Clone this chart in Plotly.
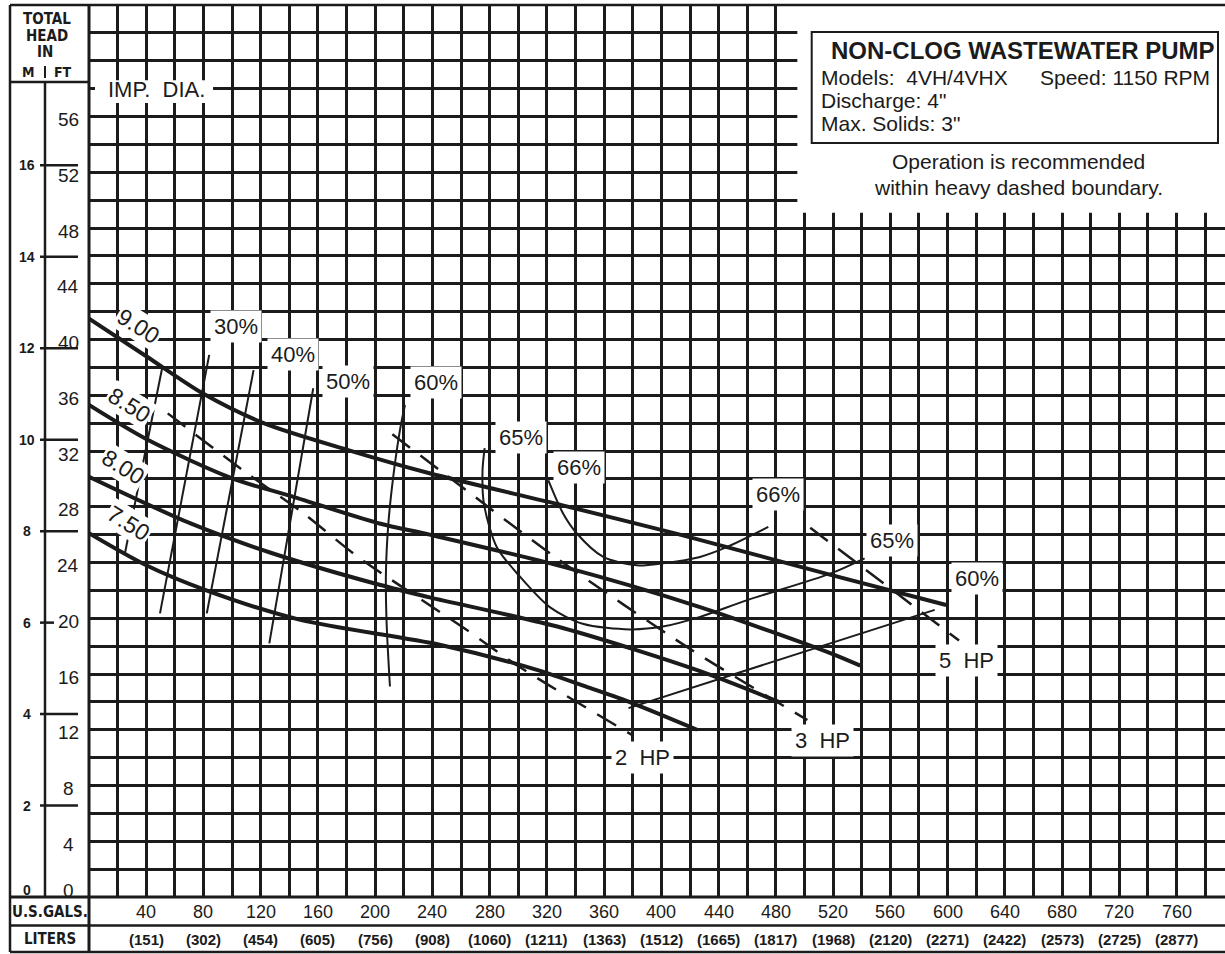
import plotly.graph_objects as go

# ---------------- data (flow in U.S. GPM, head in feet) ----------------
imp_900_gpm = [0, 40, 80, 122, 180, 238, 331, 413, 515, 599]
imp_900_ft = [41.5, 38.8, 36.1, 34.0, 32.1, 30.4, 28.1, 26.0, 23.2, 20.95]
imp_850_gpm = [0, 41, 101, 140, 203, 238, 331, 427, 518, 539]
imp_850_ft = [35.3, 32.8, 30.0, 28.8, 26.8, 26.0, 23.7, 20.8, 17.5, 16.6]
imp_800_gpm = [0, 71, 127, 203, 238, 331, 427, 482]
imp_800_ft = [30.15, 26.8, 24.7, 22.4, 21.5, 19.3, 16.2, 14.0]
imp_750_gpm = [0, 40, 82, 147, 245, 313, 350, 380, 425]
imp_750_ft = [26.1, 23.8, 22.0, 19.9, 18.1, 16.3, 15.0, 13.9, 12.0]

eff_30_gpm = [84, 49.6]
eff_30_ft = [38.9, 20.35]
eff_40_gpm = [115, 82.3]
eff_40_ft = [37.8, 20.35]
eff_50_gpm = [156.7, 126]
eff_50_ft = [36.5, 18.2]
eff_60a_gpm = [220.8, 217.3, 212.6, 209.2, 207.5, 208, 210.3]
eff_60a_ft = [35.3, 33.5, 30.15, 26.8, 23.25, 19.6, 15.1]
eff_60b_gpm = [377, 591]
eff_60b_ft = [13.55, 20.6]
eff_65_gpm = [276.5, 275, 276, 285, 301, 322, 345, 378, 401, 427, 460, 518, 542]
eff_65_ft = [32.2, 30.6, 28.2, 25.1, 23.0, 20.8, 19.6, 19.2, 19.4, 20.1, 21.3, 23.2, 24.3]
eff_66_gpm = [321, 331.4, 340.8, 359.4, 382.7, 401.3, 427, 445.6, 474.7]
eff_66_ft = [29.9, 27.5, 26.1, 24.4, 23.8, 23.95, 24.4, 25.1, 26.55]

hp2_gpm = [55, 109, 149, 188, 262, 301, 380]
hp2_ft = [34.7, 30.5, 27.6, 24.4, 19.3, 16.5, 11.6]
hp3_gpm = [212, 248, 327, 420, 502]
hp3_ft = [33.2, 30.4, 24.3, 17.8, 12.7]
hp5_gpm = [504, 608]
hp5_ft = [26.5, 18.4]
bound_gpm = [51.4, 25.2]
bound_ft = [38.1, 24.7]

gpm_ticks = [40, 80, 120, 160, 200, 240, 280, 320, 360, 400,
             440, 480, 520, 560, 600, 640, 680, 720, 760]
liter_labels = ["(151)", "(302)", "(454)", "(605)", "(756)", "(908)", "(1060)",
                "(1211)", "(1363)", "(1512)", "(1665)", "(1817)", "(1968)",
                "(2120)", "(2271)", "(2422)", "(2573)", "(2725)", "(2877)"]
ft_ticks = [0, 4, 8, 12, 16, 20, 24, 28, 32, 36, 40, 44, 48, 52, 56]
m_ticks = [0, 2, 4, 6, 8, 10, 12, 14, 16]
FT_PER_M = 3.28084

# ---------------- styling helpers ----------------
INK = "#1b1b1b"
FONT = "Liberation Sans, Arial, sans-serif"
NARROW = "Liberation Sans Narrow, DejaVu Sans Condensed, Liberation Sans, sans-serif"
ML, MT, PW, PH = 89, 5, 1136, 892
YMAX = 64


def pxx(p):
    return (p - ML) / PW


def pxy(p):
    return (MT + PH - p) / PH


fig = go.Figure()


def add_line(x, y, width, dash="solid", shape="spline"):
    fig.add_trace(go.Scatter(x=x, y=y, mode="lines", hoverinfo="skip",
                             line=dict(color=INK, width=width, dash=dash,
                                       shape=shape, smoothing=0.8)))


for gx, gy in [(imp_900_gpm, imp_900_ft), (imp_850_gpm, imp_850_ft),
               (imp_800_gpm, imp_800_ft), (imp_750_gpm, imp_750_ft)]:
    add_line(gx, gy, 4)

for gx, gy in [(eff_30_gpm, eff_30_ft), (eff_40_gpm, eff_40_ft),
               (eff_50_gpm, eff_50_ft), (eff_60b_gpm, eff_60b_ft),
               (bound_gpm, bound_ft)]:
    add_line(gx, gy, 2, shape="linear")
for gx, gy in [(eff_60a_gpm, eff_60a_ft), (eff_65_gpm, eff_65_ft),
               (eff_66_gpm, eff_66_ft)]:
    add_line(gx, gy, 2)

for gx, gy in [(hp2_gpm, hp2_ft), (hp3_gpm, hp3_ft), (hp5_gpm, hp5_ft)]:
    add_line(gx, gy, 2.5, dash="22px,13px")

shapes = []


def seg(x0, y0, x1, y1, w=2.5):
    shapes.append(dict(type="line", xref="paper", yref="paper",
                       x0=pxx(x0), y0=pxy(y0), x1=pxx(x1), y1=pxy(y1),
                       line=dict(color=INK, width=w), layer="above"))


# white cover in the upper right (grid knocked out behind the title block)
shapes.append(dict(type="rect", xref="x", yref="y", x0=495, x1=800, y0=49.1, y1=66,
                   fillcolor="white", line=dict(width=0), layer="above"))
# knock-out behind "IMP. DIA."
shapes.append(dict(type="rect", xref="x", yref="y", x0=4.2, x1=86.7, y0=56.96, y1=58.6,
                   fillcolor="white", line=dict(width=0), layer="above"))

# frame lines
seg(10, 5, 1225, 5, 2.5)
seg(10, 5, 10, 952, 2.5)
seg(89, 5, 89, 952, 3)
seg(45, 82, 45, 897, 2.5)
seg(10, 82, 89, 82, 2.5)
seg(45, 66, 45, 78, 2)
seg(10, 897, 1225, 897, 3)
seg(10, 925.5, 1225, 925.5, 2.5)
seg(10, 952, 1225, 952, 2.5)

# title box
shapes.append(dict(type="rect", xref="paper", yref="paper",
                   x0=pxx(811.7), x1=pxx(1218), y0=pxy(143), y1=pxy(32),
                   line=dict(color=INK, width=2), fillcolor="rgba(0,0,0,0)", layer="above"))

# metre ticks
for m in m_ticks:
    if m == 0:
        continue
    yv = m * FT_PER_M / YMAX
    x_end = 54 if m == 6 else 78
    shapes.append(dict(type="line", xref="paper", yref="paper",
                       x0=pxx(40), x1=pxx(x_end), y0=yv, y1=yv,
                       line=dict(color=INK, width=2.5), layer="above"))

ann = []


def text(x, y, s, size, xref="paper", yref="paper", bold=False, family=FONT,
         xanchor="center", yanchor="middle", angle=0, bg=None, pad=1, yshift=0):
    d = dict(x=x, y=y, xref=xref, yref=yref, text=("<b>%s</b>" % s) if bold else s,
             showarrow=False, xanchor=xanchor, yanchor=yanchor, textangle=angle,
             font=dict(family=family, size=size, color=INK), yshift=yshift)
    if bg:
        d.update(bgcolor=bg, borderpad=pad)
    ann.append(d)


# header of left scale
text(pxx(47), pxy(19), "TOTAL", 15, bold=True, family=NARROW)
text(pxx(47), pxy(36), "HEAD", 15, bold=True, family=NARROW)
text(pxx(45), pxy(52), "IN", 15, bold=True, family=NARROW)
text(pxx(28), pxy(72), "M", 14, bold=True, family=NARROW)
text(pxx(63), pxy(72), "FT", 14, bold=True, family=NARROW)

for m in m_ticks:
    yv = m * FT_PER_M / YMAX
    text(pxx(27), yv, str(m), 14, bold=True, yshift=7 if m == 0 else 0)
for f in ft_ticks:
    text(pxx(68), f / YMAX, str(f), 19, yshift=7 if f == 0 else -3)

# bottom scales
text(pxx(50), pxy(911.5), "U.S.GALS.", 15, bold=True, family=NARROW)
text(pxx(50), pxy(939), "LITERS", 15, bold=True, family=NARROW)
for g, lab in zip(gpm_ticks, liter_labels):
    text(g, pxy(911.5), str(g), 18, xref="x")
    text(g, pxy(939.5), lab, 15, xref="x", bold=True)

# in-chart labels
text(47.5, 57.95, "IMP.  DIA.", 22, xref="x", yref="y")
for lab, (gx, gy) in zip(["9.00", "8.50", "8.00", "7.50"],
                         [(34.5, 40.96), (28.2, 35.3), (24.0, 30.87), (27.5, 26.81)]):
    text(gx, gy, lab, 23, xref="x", yref="y", angle=32, bg="white", pad=1)

for lab, (gx, gy) in zip(["30%", "40%", "50%", "60%", "65%", "66%", "66%", "65%", "60%",
                          "5  HP", "3  HP", "2  HP"],
                         [(102.4, 40.96), (142.9, 38.95), (181, 37.02), (242.5, 36.94),
                          (302.2, 32.96), (342.1, 30.81), (481.8, 28.91), (560.8, 25.61),
                          (620.2, 22.88), (612.9, 17.0), (512.9, 11.26), (386.8, 10.01)]):
    text(gx, gy, lab, 22, xref="x", yref="y", bg="white", pad=3)

# title block
text(pxx(829), pxy(50.5), "NON-CLOG WASTEWATER PUMP", 24, bold=True, xanchor="left")
text(pxx(819), pxy(77), "Models:  4VH/4VHX", 21, xanchor="left")
text(pxx(1038), pxy(77), "Speed: 1150 RPM", 21, xanchor="left")
text(pxx(819), pxy(100), "Discharge: 4\"", 21, xanchor="left")
text(pxx(819), pxy(123), "Max. Solids: 3\"", 21, xanchor="left")
text(pxx(1018), pxy(161.5), "Operation is recommended", 21)
text(pxx(1018), pxy(188), "within heavy dashed boundary.", 21)

axis_common = dict(showgrid=True, gridcolor=INK, gridwidth=2.5, zeroline=False,
                   showline=False, ticks="", showticklabels=False, fixedrange=True)

fig.update_layout(
    width=1225, height=954,
    margin=dict(l=ML, r=0, t=MT, b=954 - MT - PH, pad=0),
    paper_bgcolor="white", plot_bgcolor="white",
    showlegend=False,
    xaxis=dict(range=[0, PW / 1.431], dtick=20, tick0=0, **axis_common),
    yaxis=dict(range=[0, YMAX], dtick=2, tick0=0, **axis_common),
    shapes=shapes,
    annotations=ann,
)

fig.write_html("out.html", config={"displayModeBar": False},
               post_script="document.body.style.margin='0';document.body.style.overflow='hidden';")
